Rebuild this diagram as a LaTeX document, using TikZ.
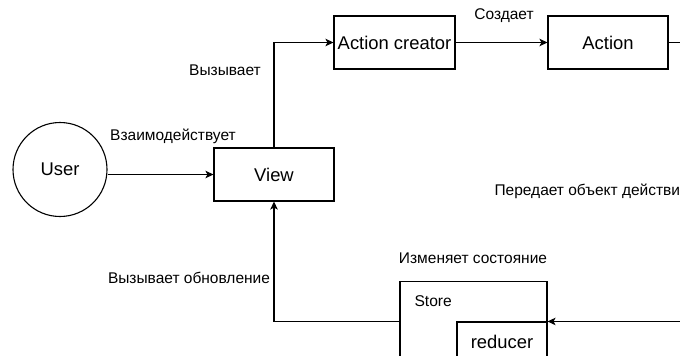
\documentclass[tikz,border=0pt]{standalone}
\usepackage{fontspec}
\setmainfont{Liberation Sans}
\usetikzlibrary{arrows.meta}
\begin{document}
\begin{tikzpicture}[x=1pt,y=-1pt,
  line width=1.1pt,
  stepbox/.style={draw, rectangle, inner sep=0pt, font=\fontsize{18.4}{20}\selectfont},
  actor/.style={draw, circle, inner sep=0pt, minimum size=94pt, font=\fontsize{18.4}{20}\selectfont},
  lbl/.style={inner sep=0pt, font=\fontsize{15.5}{18}\selectfont},
  arr/.style={-{Stealth[length=8pt,width=7.5pt,inset=2pt]}}]
  \useasboundingbox (0,0) rectangle (680,356);
  \clip (0,0) rectangle (680,356);

  % main blocks
  \node[actor] (user) at (60,169.5) {User};
  \node[stepbox, minimum width=120pt, minimum height=53pt] (view) at (274,174.5) {View};
  \node[stepbox, minimum width=121pt, minimum height=53pt] (creator) at (394.5,42.5) {Action creator};
  \node[stepbox, minimum width=120pt, minimum height=53pt] (action) at (608,42.5) {Action};

  % store with its reducer
  \node[stepbox, minimum width=147pt, minimum height=137pt] (store) at (473.5,350) {};
  \node[lbl, anchor=west, font=\fontsize{15.6}{18}\selectfont] (storelbl) at (414,301) {Store};
  \node[stepbox, minimum width=90pt, minimum height=78pt] (reducer) at (502,361) {};
  \node[inner sep=0pt, font=\fontsize{18.4}{20}\selectfont] (reducerlbl) at (502,342) {reducer};

  % flow
  \draw[arr] (user.east |- view.west) -- (view.west);
  \draw[arr] (view.north) |- (creator.west);
  \draw[arr] (creator.east) -- (action.west);
  \coordinate (turn) at (720,42.5);
  \draw[arr] (action.east) -- (turn) |- (store.east |- reducer.north);
  \draw[arr] (store.west |- reducer.north) -| (view.south);

  % flow labels
  \node[lbl] (l1) at (173,136) {Взаимодействует};
  \node[lbl] (l2) at (225,70) {Вызывает};
  \node[lbl] (l3) at (504,16) {Создает};
  \node[lbl, anchor=west] (l4) at (494,191) {Передает объект действия};
  \node[lbl] (l5) at (473,258) {Изменяет состояние};
  \node[lbl] (l6) at (189,278) {Вызывает обновление};
\end{tikzpicture}
\end{document}
